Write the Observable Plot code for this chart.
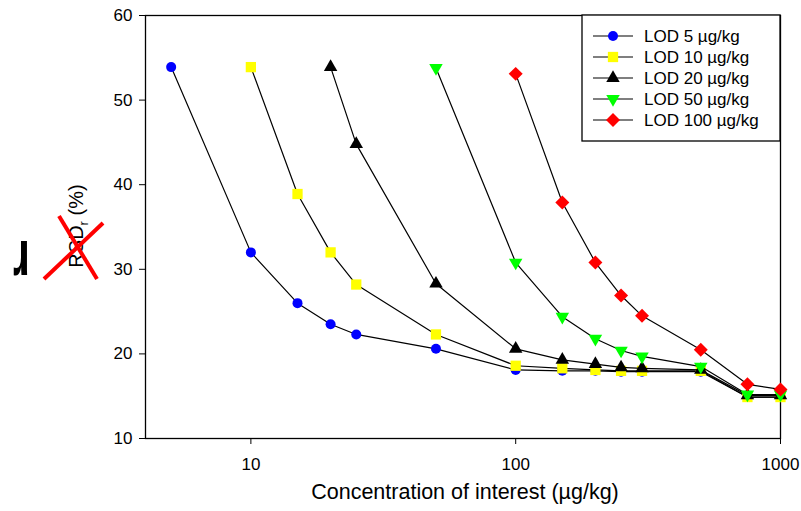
<!DOCTYPE html>
<html><head><meta charset="utf-8">
<script src="https://cdn.jsdelivr.net/npm/d3@7"></script>
<script src="https://cdn.jsdelivr.net/npm/@observablehq/plot@0.6"></script>
<style>body{margin:0;background:#fff;} svg{display:block}</style>
</head><body><div id="chart"></div>
<script>
// ---- data ----
const seriesNames = ["LOD 5 µg/kg", "LOD 10 µg/kg", "LOD 20 µg/kg", "LOD 50 µg/kg", "LOD 100 µg/kg"];
const x5   = [5, 10, 15, 20, 25, 50, 100, 150, 200, 250, 300, 500, 750, 1000];
const y5   = [53.9, 32.0, 26.0, 23.5, 22.3, 20.6, 18.1, 18.0, 18.0, 17.9, 17.9, 17.9, 14.9, 14.9];
const x10  = [10, 15, 20, 25, 50, 100, 150, 200, 250, 300, 500, 750, 1000];
const y10  = [53.9, 38.9, 32.0, 28.2, 22.3, 18.6, 18.3, 18.1, 18.0, 18.0, 18.0, 14.9, 14.9];
const x20  = [20, 25, 50, 100, 150, 200, 250, 300, 500, 750, 1000];
const y20  = [53.9, 44.8, 28.3, 20.6, 19.3, 18.8, 18.4, 18.3, 18.1, 15.1, 15.1];
const x50  = [50, 100, 150, 200, 250, 300, 500, 750, 1000];
const y50  = [53.8, 30.8, 24.4, 21.8, 20.4, 19.7, 18.5, 15.2, 15.2];
const x100 = [100, 150, 200, 250, 300, 500, 750, 1000];
const y100 = [53.1, 37.9, 30.8, 26.9, 24.5, 20.5, 16.4, 15.8];
const xTicks = [10, 100, 1000];
const yTicks = [10, 20, 30, 40, 50, 60];
const xLabel = "Concentration of interest (µg/kg)";

// ---- styles ----
const xs = [x5, x10, x20, x50, x100];
const ys = [y5, y10, y20, y50, y100];
const symbols = ["circle", "square", "triangle", "triangle", "diamond2"];
const rotations = [0, 0, 0, 180, 0];
const colors = ["#0000ff", "#ffff00", "#000000", "#00ff00", "#ff0000"];
const radii = [5, 5.8, 5, 5, 6.3];
const FONT = "'Liberation Sans', Arial, sans-serif";

const series = seriesNames.map((name, i) => ({
  name, data: xs[i].map((x, j) => ({x, y: ys[i][j]}))
}));

const marks = [
  Plot.frame({stroke: "#000", strokeWidth: 1.3}),
  Plot.axisX({ticks: xTicks, tickFormat: d => String(d), tickSize: 6, tickPadding: 13, fontSize: 17, label: null}),
  Plot.axisY({ticks: yTicks, tickSize: 6, tickPadding: 7, fontSize: 17, label: null}),
  Plot.text([xLabel], {text: d => d, frameAnchor: "bottom", dy: 60, dx: 2, fontSize: 21.5, fill: "#000"})
];
series.forEach((s, i) => {
  marks.push(Plot.line(s.data, {x: "x", y: "y", stroke: "#000", strokeWidth: 1.2}));
  marks.push(Plot.dot(s.data, {x: "x", y: "y", symbol: symbols[i], rotate: rotations[i], fill: colors[i], stroke: "none", r: radii[i]}));
});

const chart = Plot.plot({
  width: 801, height: 511,
  marginLeft: 145, marginRight: 21, marginTop: 15, marginBottom: 73,
  style: {fontFamily: FONT, fontSize: "16px", color: "#000", background: "#fff"},
  x: {type: "log", domain: [4, 1000]},
  y: {domain: [10, 60]},
  marks
});
document.getElementById("chart").appendChild(chart);

// ---- annotations: y label, struck-out, glyph, legend ----
const svg = d3.select(chart);
const ylab = svg.append("text")
  .attr("transform", "translate(83,226) rotate(-90)")
  .attr("text-anchor", "middle")
  .attr("font-size", 20).attr("font-family", FONT).attr("fill", "#000");
ylab.append("tspan").text("RSD");
ylab.append("tspan").attr("font-size", 13).attr("dy", 5).text("r");
ylab.append("tspan").attr("dy", -5).text(" (%)");

svg.append("line").attr("x1", 44).attr("y1", 279).attr("x2", 103).attr("y2", 223)
  .attr("stroke", "#ff0000").attr("stroke-width", 4);
svg.append("line").attr("x1", 59).attr("y1", 216).attr("x2", 97).attr("y2", 279)
  .attr("stroke", "#ff0000").attr("stroke-width", 4);

svg.append("text").attr("transform", "translate(30,241) rotate(180) scale(0.68,1)")
  .attr("text-anchor", "start")
  .attr("font-size", 64).attr("font-weight", "bold").attr("font-family", FONT)
  .attr("fill", "#000").text("r");

const symMap = {circle: d3.symbolCircle, square: d3.symbolSquare, triangle: d3.symbolTriangle, diamond2: d3.symbolDiamond2};
const lg = svg.append("g");
lg.append("rect").attr("x", 582).attr("y", 15).attr("width", 198).attr("height", 126)
  .attr("fill", "#fff").attr("stroke", "#000").attr("stroke-width", 1.3);
seriesNames.forEach((name, i) => {
  const cy = 36 + i * 21;
  lg.append("line").attr("x1", 593).attr("x2", 633).attr("y1", cy).attr("y2", cy)
    .attr("stroke", "#000").attr("stroke-width", 1.2);
  lg.append("path")
    .attr("d", d3.symbol().type(symMap[symbols[i]]).size(Math.PI * radii[i] * radii[i])())
    .attr("transform", `translate(613,${cy}) rotate(${rotations[i]})`)
    .attr("fill", colors[i]);
  lg.append("text").attr("x", 644).attr("y", cy).attr("dy", "0.35em")
    .attr("text-anchor", "start")
    .attr("font-size", 17).attr("font-family", FONT).attr("fill", "#000").text(name);
});
</script>
</body></html>
